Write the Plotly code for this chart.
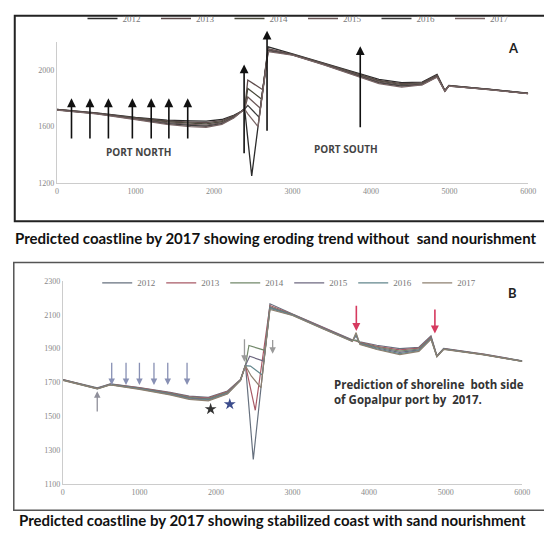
import plotly.graph_objects as go

W, H = 544, 535
N = None

years = ["2012", "2013", "2014", "2015", "2016", "2017"]

# ---------------- Panel A (without sand nourishment) ----------------
xA = [0, 500, 1000, 1400, 1700, 1900, 2100, 2250, 2340, 2390, 2430, 2480,
      2560, 2575, 2590, 2605, 2620, 2690, 3000, 3400, 3850, 4100, 4390,
      4650, 4840, 4940, 4990, 5500, 6000]
yA_2012 = [1722, 1697, 1665, 1645, 1640, 1638, 1650, 1680, 1705, 1725, N, 1250,
           N, N, N, N, N, 2165, 2115, 2050, 1975, 1935, 1912,
           1915, 1970, 1856, 1892, 1866, 1836]
yA_2013 = [1721, 1695, 1662, 1640, 1632, 1628, 1642, 1675, 1705, 1725, 1930, N,
           N, N, N, N, 1861, 2152, 2112, 2046, 1970, 1928, 1905,
           1910, 1964, 1854, 1890, 1865, 1835]
yA_2014 = [1720, 1694, 1659, 1634, 1624, 1619, 1634, 1671, 1705, 1725, 1870, N,
           N, N, N, 1795, N, 2145, 2110, 2044, 1966, 1922, 1898,
           1905, 1960, 1853, 1889, 1864, 1835]
yA_2015 = [1719, 1693, 1656, 1628, 1616, 1610, 1627, 1667, 1704, 1724, 1810, N,
           N, N, 1730, N, N, 2148, 2109, 2042, 1962, 1916, 1892,
           1901, 1957, 1852, 1888, 1864, 1834]
yA_2016 = [1718, 1692, 1653, 1621, 1608, 1602, 1620, 1663, 1703, 1724, 1750, N,
           N, 1665, N, N, N, 2138, 2108, 2040, 1958, 1910, 1886,
           1898, 1954, 1851, 1887, 1863, 1834]
yA_2017 = [1717, 1690, 1650, 1615, 1600, 1595, 1615, 1660, 1702, 1723, 1690, N,
           1600, N, N, N, N, 2132, 2106, 2038, 1954, 1905, 1880,
           1895, 1950, 1850, 1886, 1862, 1833]
seriesA = [yA_2012, yA_2013, yA_2014, yA_2015, yA_2016, yA_2017]

# arrows panel A (groyne markers)
arrA_x = [185, 420, 655, 960, 1200, 1425, 1665]
arrA_tail, arrA_head = 1505, 1800
portA_x = [2383, 2675, 3862]
portA_tail = [1400, 1560, 1585]
portA_head = [2040, 2280, 2170]

# ---------------- Panel B (with sand nourishment) ----------------
xB = [0, 450, 620, 1000, 1400, 1650, 1900, 2150, 2320, 2385, 2430, 2440, 2450,
      2460, 2487, 2513, 2587, 2605, 2625, 2640, 2705, 3000, 3400, 3780, 3830,
      3880, 4100, 4400, 4650, 4808, 4885, 4974, 5500, 6000]
yB_2012 = [1718, 1668, 1692, 1670, 1642, 1620, 1612, 1650, 1718, 1805, N, N, N,
           N, 1245, N, N, N, N, N, 2165, 2105, 2025, 1952, 1948,
           1940, 1920, 1900, 1908, 1975, 1858, 1902, 1868, 1828]
yB_2013 = [1717, 1666, 1690, 1668, 1639, 1616, 1608, 1646, 1716, 1803, N, N, N,
           N, N, 1536, N, N, N, N, 2155, 2103, 2023, 1950, 1946,
           1937, 1914, 1893, 1903, 1970, 1856, 1900, 1866, 1827]
yB_2014 = [1716, 1665, 1689, 1666, 1636, 1612, 1604, 1642, 1715, 1802, 1919, N, N,
           N, N, N, N, N, N, 1890, 2148, 2101, 2021, 1948, 1950,
           1934, 1909, 1886, 1898, 1966, 1855, 1899, 1865, 1826]
yB_2015 = [1715, 1664, 1688, 1664, 1633, 1608, 1600, 1638, 1714, 1801, N, 1855, N,
           N, N, N, N, N, 1826, N, 2143, 2100, 2020, 1946, 1975,
           1931, 1904, 1878, 1893, 1962, 1854, 1898, 1864, 1826]
yB_2016 = [1714, 1663, 1687, 1662, 1630, 1604, 1596, 1635, 1713, 1800, N, N, 1797,
           N, N, N, N, 1745, N, N, 2138, 2098, 2018, 1944, 1985,
           1928, 1899, 1871, 1888, 1958, 1853, 1897, 1864, 1825]
yB_2017 = [1713, 1662, 1686, 1660, 1627, 1600, 1592, 1632, 1712, 1799, N, N, N,
           1739, N, N, 1669, N, N, N, 2132, 2096, 2016, 1942, 1995,
           1925, 1895, 1865, 1884, 1955, 1852, 1896, 1863, 1825]
seriesB = [yB_2012, yB_2013, yB_2014, yB_2015, yB_2016, yB_2017]

arrB_down_x = [638, 825, 1000, 1190, 1370, 1622]
arrB_down_tail, arrB_down_head = 1826, 1685
arrB_up = (449, 1520, 1648)
portB_x = [2372, 2740]
portB_tail = [1965, 1960]
portB_head = [1822, 1870]
redB_x = [3833, 4859]
redB_tail = [2163, 2140]
redB_head = [2005, 1990]
starsB_x = [1930, 2180]
starsB_y = [1543, 1572]

ticksA_y = [1200, 1600, 2000]
ticksB_y = [1100, 1300, 1500, 1700, 1900, 2100, 2300]
ticks_x = [0, 1000, 2000, 3000, 4000, 5000, 6000]

colorsA = ["#2b2b2b", "#5e4b4b", "#4a4a3c", "#6d5a5a", "#3d3d3d", "#7a6666"]
colorsB = ["#66707e", "#a85a66", "#72886a", "#6e6880", "#62868c", "#8e8070"]


def px(x):
    return x / W


def py(y):
    return 1 - y / H


fig = go.Figure()

for yr, ys, c in zip(years, seriesA, colorsA):
    fig.add_trace(go.Scatter(x=xA, y=ys, mode="lines", name=yr, connectgaps=True,
                             line=dict(color=c, width=1.3), xaxis="x", yaxis="y",
                             legend="legend"))
for yr, ys, c in zip(years, seriesB, colorsB):
    fig.add_trace(go.Scatter(x=xB, y=ys, mode="lines", name=yr, connectgaps=True,
                             line=dict(color=c, width=1.2), xaxis="x2", yaxis="y2",
                             legend="legend2"))

fig.add_trace(go.Scatter(x=starsB_x, y=starsB_y, mode="markers", showlegend=False,
                         marker=dict(symbol="star", size=9, color=["#333333", "#3c4c8c"]),
                         xaxis="x2", yaxis="y2"))

ann = []


def arrow(x, tail, head, xr, yr, color, w=1.5, size=1.2, head_style=2):
    ann.append(dict(x=x, y=head, ax=x, ay=tail, xref=xr, yref=yr, axref=xr, ayref=yr,
                    text="", showarrow=True, arrowhead=head_style, arrowsize=size,
                    arrowwidth=w, arrowcolor=color, standoff=0, startstandoff=0))


for x in arrA_x:
    arrow(x, arrA_tail, arrA_head, "x", "y", "#111111", 1.6, 1.1)
for x, t, h in zip(portA_x, portA_tail, portA_head):
    arrow(x, t, h, "x", "y", "#111111", 1.6, 1.1)
for x in arrB_down_x:
    arrow(x, arrB_down_tail, arrB_down_head, "x2", "y2", "#8890b4", 1.3, 1.0)
arrow(arrB_up[0], arrB_up[1], arrB_up[2], "x2", "y2", "#8f8f9a", 1.3, 1.0)
for x, t, h in zip(portB_x, portB_tail, portB_head):
    arrow(x, t, h, "x2", "y2", "#9a9a9a", 1.3, 1.0)
for x, t, h in zip(redB_x, redB_tail, redB_head):
    arrow(x, t, h, "x2", "y2", "#d63a5f", 1.6, 1.0)


def text(s, x, y, size, color="#222", bold=True, xanchor="center", align="center",
         family="Lato, Open Sans, sans-serif"):
    ann.append(dict(text=("<b>%s</b>" % s) if bold else s, x=px(x), y=py(y),
                    xref="paper", yref="paper", showarrow=False, xanchor=xanchor,
                    yanchor="middle", align=align,
                    font=dict(family=family, size=size, color=color)))


text("PORT NORTH", 139, 151, 10, "#444", family="Open Sans, sans-serif")
text("PORT SOUTH", 350, 147, 10, "#444", family="Open Sans, sans-serif")
text("A", 521, 45, 13, "#222")
text("B", 520, 294, 13, "#222")
text("Prediction of shoreline  both side<br>of Gopalpur port by  2017.", 336, 395, 11.5,
     "#333", xanchor="left", align="left", family="Open Sans, sans-serif")
text("Predicted coastline by 2017 showing eroding trend without  sand nourishment",
     279, 238, 15, "#111")
text("Predicted coastline by 2017 showing stabilized coast with sand nourishment",
     276, 525, 15, "#111")

shapes = [
    dict(type="rect", xref="paper", yref="paper", x0=px(13), x1=px(570), y0=py(221), y1=py(12),
         line=dict(color="#222", width=2)),
    dict(type="rect", xref="paper", yref="paper", x0=px(12), x1=px(570), y0=py(515), y1=py(263),
         line=dict(color="#555", width=1.5)),
]

tickfont = dict(family="Liberation Serif, serif", size=8, color="#888")
axis_common = dict(showgrid=False, zeroline=False, showline=True, linecolor="#cccccc",
                   linewidth=1, ticks="", tickfont=tickfont, fixedrange=True)

legfont = dict(family="Liberation Serif, serif", size=9, color="#777")

fig.update_layout(
    width=W, height=H, margin=dict(l=0, r=0, t=0, b=0),
    paper_bgcolor="white", plot_bgcolor="white",
    xaxis=dict(domain=[px(56), px(536)], range=[0, 6000], tickvals=ticks_x,
               anchor="y", **axis_common),
    yaxis=dict(domain=[py(182), py(38.6)], range=[1200, 2200], tickvals=ticksA_y,
               anchor="x", **axis_common),
    xaxis2=dict(domain=[px(62), px(530)], range=[0, 6000], tickvals=ticks_x,
                anchor="y2", **axis_common),
    yaxis2=dict(domain=[py(488.3), py(281.7)], range=[1100, 2300], tickvals=ticksB_y,
                anchor="x2", **axis_common),
    legend=dict(orientation="h", x=px(82), y=py(0), xanchor="left", yanchor="top",
                bgcolor="rgba(0,0,0,0)", font=legfont,
                entrywidth=28.5, entrywidthmode="pixels", itemwidth=30),
    legend2=dict(orientation="h", x=px(97), y=py(269), xanchor="left", yanchor="top",
                 bgcolor="rgba(0,0,0,0)", font=legfont,
                 entrywidth=19, entrywidthmode="pixels", itemwidth=30),
    annotations=ann, shapes=shapes, showlegend=True,
)

fig.write_html("out.html", config={"displayModeBar": False},
               post_script="document.body.style.margin='0';document.body.style.overflow='hidden';")
